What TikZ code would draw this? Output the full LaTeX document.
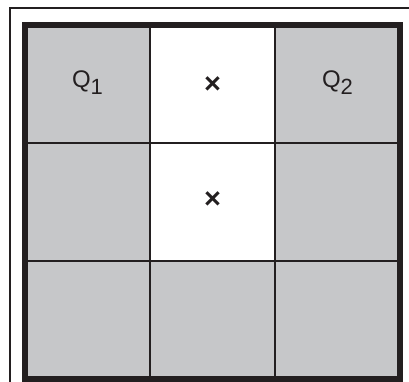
\documentclass[tikz,border=0pt]{standalone}
\usepackage{fontspec}
\setmainfont{Liberation Sans}
\definecolor{cellgray}{RGB}{198,199,201}
\definecolor{ink}{RGB}{35,31,32}
\newcommand{\sublow}[1]{\raisebox{-7pt}{\fontsize{22}{24}\selectfont #1}}

\begin{document}
\begin{tikzpicture}[x=1pt, y=-1pt,
  cell/.style={draw=ink, line width=2pt, fill=cellgray, inner sep=0pt, outer sep=0pt,
    minimum width=125pt, minimum height=118pt},
  open/.style={cell, fill=white},
  lbl/.style={font=\fontsize{24}{27}\selectfont, text=ink, inner sep=0pt, anchor=base},
  crossmark/.style={font=\fontsize{29}{32}\selectfont\bfseries, text=ink, inner sep=0pt}
]
\useasboundingbox (0,0) rectangle (409,382);

% outer frame
\draw[ink, line width=1.5pt] (10,382) -- (10,8) -- (409,8);

% grid of cells
\foreach \r in {1,2,3}{
  \foreach \c in {1,2,3}{
    \node[cell] (c-\r-\c) at ({25+62.5+125*(\c-1)}, {25+59+118*(\r-1)}) {};
  }
}
\node[open] (c-1-2) at (212.5,84) {};
\node[open] (c-2-2) at (212.5,202) {};

% thick border
\draw[ink, line width=6pt] (c-1-1.north west) rectangle (c-3-3.south east);

% labels
\node[lbl] (q1) at ([yshift=-4]c-1-1) {Q\sublow{1}};
\node[lbl] (q2) at ([yshift=-4]c-1-3) {Q\sublow{2}};
\node[crossmark] (x1) at ([yshift=-1]c-1-2) {×};
\node[crossmark] (x2) at ([yshift=1.5]c-2-2) {×};

\end{tikzpicture}
\end{document}
